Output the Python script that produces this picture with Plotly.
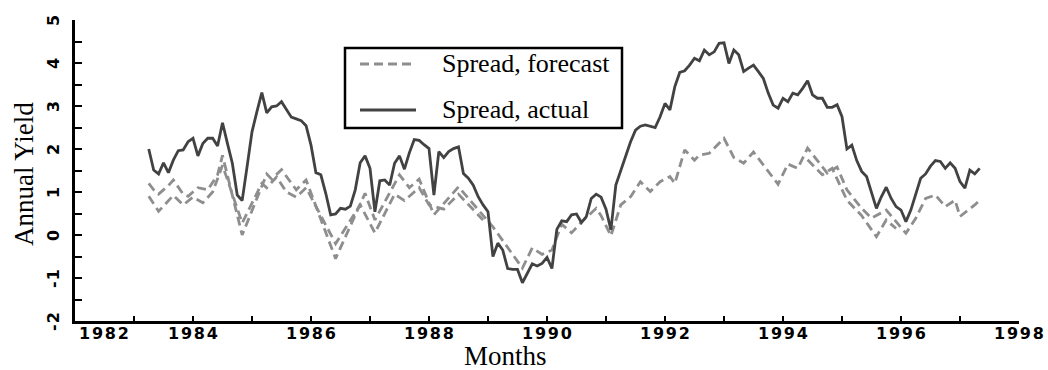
import numpy as np
import plotly.graph_objects as go

# Monthly actual spread, starting April 1983
first_month = 1983.25
actual = [
    2.00, 1.51, 1.42, 1.68, 1.45, 1.74, 1.96, 1.98, 2.17, 2.25,
    1.84, 2.13, 2.25, 2.25, 2.07, 2.61, 2.13, 1.67, 0.93, 0.80,
    1.59, 2.40, 2.87, 3.31, 2.84, 2.98, 3.00, 3.10, 2.92, 2.74,
    2.70, 2.66, 2.54, 2.09, 1.45, 1.40, 0.97, 0.47, 0.49, 0.62,
    0.60, 0.67, 1.05, 1.68, 1.84, 1.55, 0.54, 1.26, 1.28, 1.16,
    1.67, 1.84, 1.53, 1.91, 2.22, 2.20, 2.10, 2.01, 0.93, 1.94,
    1.80, 1.94, 2.01, 2.05, 1.43, 1.32, 1.16, 0.89, 0.70, 0.54,
    -0.50, -0.19, -0.35, -0.78, -0.80, -0.80, -1.11, -0.89, -0.67, -0.72,
    -0.66, -0.52, -0.78, 0.13, 0.33, 0.31, 0.47, 0.49, 0.29, 0.43,
    0.85, 0.95, 0.88, 0.60, 0.12, 1.16, 1.51, 1.82, 2.17, 2.44,
    2.53, 2.56, 2.53, 2.50, 2.75, 3.06, 2.91, 3.45, 3.78, 3.82,
    3.95, 4.11, 4.05, 4.30, 4.19, 4.26, 4.46, 4.47, 3.99, 4.30,
    4.19, 3.80, 3.88, 3.95, 3.80, 3.64, 3.30, 3.02, 2.95, 3.18,
    3.10, 3.30, 3.26, 3.41, 3.59, 3.26, 3.18, 3.18, 2.97, 2.97,
    3.03, 2.75, 2.00, 2.09, 1.73, 1.48, 1.36, 0.99, 0.62, 0.89,
    1.11, 0.85, 0.66, 0.58, 0.31, 0.58, 0.97, 1.32, 1.42, 1.60,
    1.73, 1.71, 1.55, 1.68, 1.55, 1.24, 1.09, 1.51, 1.42, 1.55,
]

# Forecast spread (month offsets from April 1983)
forecast_month = [
    0, 1, 2, 4, 5, 7, 8, 10, 12, 14, 15, 19, 24, 25, 27, 30, 32, 38, 44, 46,
    51, 53, 55, 58, 63, 70, 76, 78, 80, 82, 84, 86, 88, 91, 92, 94, 96, 98,
    100, 102, 104, 106, 107, 109, 111, 112, 114, 117, 119, 121, 123, 128,
    130, 132, 134, 138, 140, 142, 145, 147, 150, 154, 156, 158, 160, 162,
    164, 165, 168, 169,
]
forecast = [
    1.20, 1.05, 0.95, 1.15, 1.28, 0.95, 0.90, 1.10, 1.05, 1.40, 1.85, 0.00,
    1.42, 1.30, 1.52, 1.05, 1.28, -0.55, 0.97, 0.35, 1.40, 1.10, 1.30, 0.47,
    1.12, 0.19, -0.77, -0.30, -0.45, -0.35, 0.25, 0.05, 0.30, 0.62, 0.45,
    -0.02, 0.70, 0.89, 1.24, 1.01, 1.24, 1.36, 1.20, 1.98, 1.74, 1.86, 1.90,
    2.25, 1.80, 1.67, 1.93, 1.18, 1.65, 1.55, 2.02, 1.44, 1.58, 1.05, 0.62,
    0.39, 0.58, 0.04, 0.39, 0.85, 0.93, 0.66, 0.81, 0.43, 0.70, 0.81,
]

# Revised forecast pass over the same months (None breaks the line)
forecast_alt_month = [
    0, 2, 5, 7, 9, 11, 13, 15, 19, 23, 24, 26, 28, 30, 32, 38, 43, 46, 50,
    52, 55, 57, 60, 63, 68, None, 134, 137, 139, 142, 145, 148, 150, 152,
]
forecast_alt = [
    0.90, 0.55, 0.92, 0.70, 0.88, 0.75, 1.00, 1.62, 0.28, 1.20, 1.10, 1.35,
    1.00, 0.88, 1.10, -0.20, 0.70, 0.05, 0.95, 0.80, 1.10, 0.70, 0.60, 0.95,
    0.35, None, 1.75, 1.40, 1.55, 0.81, 0.45, -0.04, 0.35, 0.15,
]

year_ticks = list(range(1982, 1999))
label_years = [1982, 1984, 1986, 1988, 1990, 1992, 1994, 1996, 1998]
yield_labels = [-2, -1, 0, 1, 2, 3, 4, 5]

W, H = 1048, 370
ML, MR, MT, MB = 75, 29, 20, 49
PW, PH = W - ML - MR, H - MT - MB

FORECAST_COLOR = "#8e8e8e"
ACTUAL_COLOR = "#424242"
DASH = "9px,5px"


def to_year(k):
    return [None if v is None else first_month + v / 12 for v in k]


def px(x):
    return (x - ML) / PW


def py(y):
    return (H - MB - y) / PH


fig = go.Figure()
fig.add_trace(go.Scatter(
    x=to_year(forecast_month), y=forecast, mode="lines",
    line=dict(color=FORECAST_COLOR, width=2.8, dash=DASH),
    showlegend=False, hoverinfo="skip"))
fig.add_trace(go.Scatter(
    x=to_year(forecast_alt_month), y=forecast_alt, mode="lines",
    line=dict(color=FORECAST_COLOR, width=2.8, dash=DASH),
    connectgaps=False, showlegend=False, hoverinfo="skip"))
fig.add_trace(go.Scatter(
    x=to_year(range(len(actual))), y=actual, mode="lines",
    line=dict(color=ACTUAL_COLOR, width=2.8),
    showlegend=False, hoverinfo="skip"))

tick_font = dict(family="DejaVu Sans", size=16, color="black", weight="bold")
ann = []
for yr in label_years:
    first = yr == label_years[0]
    ann.append(dict(
        x=yr, y=0, xref="x", yref="paper",
        text='<b><span style="letter-spacing:1.8px">%d</span></b>' % yr,
        showarrow=False, font=tick_font,
        xanchor="left" if first else "center",
        xshift=2 if first else 1,
        yanchor="middle", yshift=-12))
for v in yield_labels:
    ann.append(dict(
        x=0, y=v, xref="paper", yref="y",
        text='<b><span style="letter-spacing:1px">%d</span></b>' % v,
        showarrow=False, font=tick_font, textangle=-90,
        xanchor="center", yanchor="middle", xshift=-22))

serif = "Liberation Serif, Times New Roman, serif"
ann.append(dict(x=px(24), y=py(174), xref="paper", yref="paper",
                text="Annual Yield", showarrow=False, textangle=-90,
                font=dict(family=serif, size=27, color="black"),
                xanchor="center", yanchor="middle"))
ann.append(dict(x=px(505), y=py(356), xref="paper", yref="paper",
                text="Months", showarrow=False,
                font=dict(family=serif, size=27, color="black"),
                xanchor="center", yanchor="middle"))

# Legend box
ann.append(dict(x=px(440), y=py(64), xref="paper", yref="paper",
                text="Spread, forecast", showarrow=False,
                font=dict(family=serif, size=26, color="black"),
                xanchor="left", yanchor="middle"))
ann.append(dict(x=px(440), y=py(110), xref="paper", yref="paper",
                text="Spread, actual", showarrow=False,
                font=dict(family=serif, size=26, color="black"),
                xanchor="left", yanchor="middle"))

shapes = [
    dict(type="rect", xref="paper", yref="paper",
         x0=px(345), x1=px(622), y0=py(128), y1=py(48),
         line=dict(color="black", width=2.5), fillcolor="white"),
    dict(type="line", xref="paper", yref="paper",
         x0=px(360), x1=px(416), y0=py(64), y1=py(64),
         line=dict(color=FORECAST_COLOR, width=2.8, dash=DASH)),
    dict(type="line", xref="paper", yref="paper",
         x0=px(360), x1=px(416), y0=py(110), y1=py(110),
         line=dict(color=ACTUAL_COLOR, width=2.8)),
]

fig.update_layout(
    width=W, height=H,
    margin=dict(l=ML, r=MR, t=MT, b=MB, pad=0),
    paper_bgcolor="white", plot_bgcolor="white",
    showlegend=False,
    annotations=ann, shapes=shapes,
    xaxis=dict(range=[1982, 1998], tickvals=year_ticks, ticks="inside",
               ticklen=5, tickwidth=2, tickcolor="black",
               showticklabels=False, showgrid=False, zeroline=False,
               showline=True, linewidth=3, linecolor="black"),
    yaxis=dict(range=[-2, 5], tick0=-2, dtick=0.5, ticks="inside",
               ticklen=7, tickwidth=2, tickcolor="black",
               showticklabels=False, showgrid=False, zeroline=False,
               showline=True, linewidth=3, linecolor="black"),
)

fig.write_html("out.html")
